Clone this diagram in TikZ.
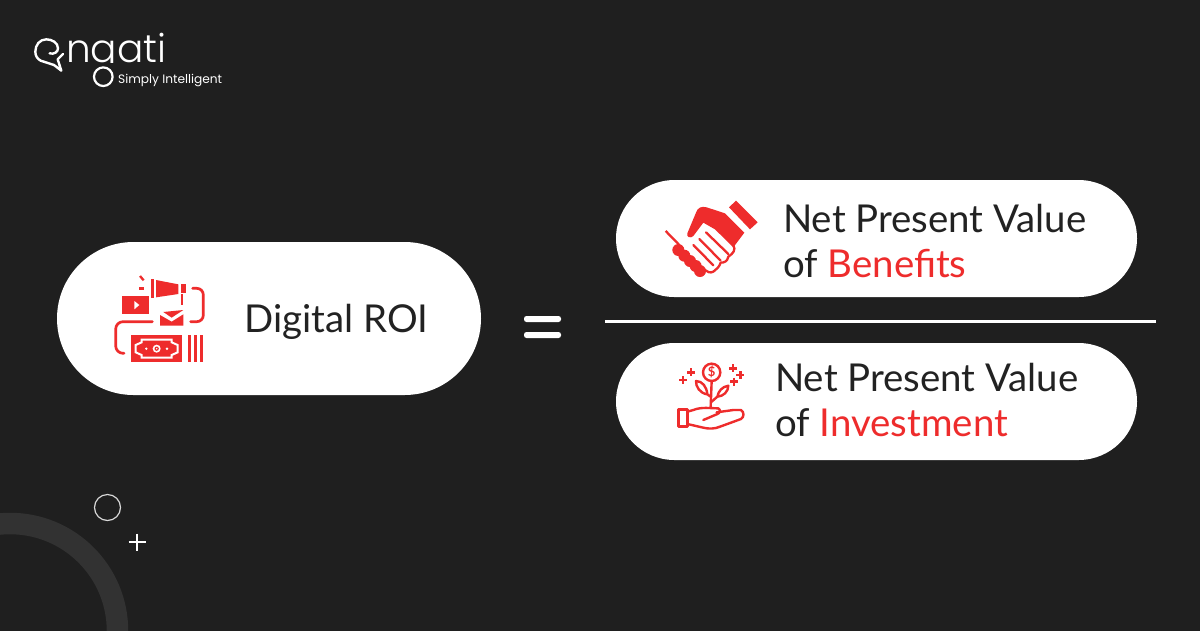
\documentclass[tikz,border=0pt]{standalone}
\usepackage{fontspec}
\setmainfont{Lato}
\newfontfamily\logofont{Poppins}[UprightFont=* Light]
\newfontfamily\logotag{Poppins}
\definecolor{bgc}{HTML}{1F1F1F}
\definecolor{ringc}{HTML}{323232}
\definecolor{redc}{HTML}{EE2C2C}
\definecolor{inkc}{HTML}{222222}
\tikzset{
  pill/.style={fill=white,draw=none},
  big/.style={anchor=base west,inner sep=0pt,text=inkc,font=\fontsize{38.4}{38.4}\selectfont},
  ic/.style={line width=2.7pt,draw=redc,line cap=round,line join=round},
  icf/.style={fill=redc,draw=none},
  thin/.style={draw=redc,line width=2.4pt,line cap=round,line join=round}
}
\begin{document}
\begin{tikzpicture}[x=1pt,y=-1pt]
\useasboundingbox (0,0) rectangle (1200,630);
\fill[bgc] (-2,-2) rectangle (1202,640);
% decoration
\draw[ringc,line width=21.5pt] (-97.5,660) -- (-97.5,631) .. controls (-97.5,571.6) and (-49.4,523.5) .. (10,523.5) .. controls (69.4,523.5) and (117.5,571.6) .. (117.5,631) -- (117.5,660);
\draw[white!85!black,line width=1.2pt] (107.5,507.5) circle[radius=13];
\draw[white,line width=2pt] (128.5,542) -- (145.5,542) (137,533.5) -- (137,550.5);
% logo
\node[anchor=base west,inner sep=0pt,text=white,font=\logofont\fontsize{39}{39}\selectfont] (word) at (66,62) {ngati};
\fill[bgc] (86,63) rectangle (116,82);
\draw[white,line width=2.2pt] (103.3,76.7) circle[radius=9.3];
\begin{scope}[shift={(28,30)},scale=1/3]
\draw[white,line width=2.4pt,line cap=round,line join=round] (65,70) .. controls (78,74) and (90,66) .. (90,55) .. controls (90,38) and (72,28) .. (55,28) .. controls (35,28) and (22,45) .. (22,65) .. controls (22,78) and (28,86) .. (38,92) -- (78,105) -- (100,122) -- (89,88) -- (105,72);
\end{scope}
\node[anchor=base west,inner sep=0pt,text=white,font=\logotag\fontsize{12.2}{12.2}\selectfont] (tag) at (118,83) {Simply Intelligent};
% pills
\fill[pill] (57,242) [rounded corners=76.5pt] rectangle (481,395);
\fill[pill] (616,180) [rounded corners=58.5pt] rectangle (1137,297);
\fill[pill] (616,343) [rounded corners=58.5pt] rectangle (1137,460);
% equals, rule
\fill[white,rounded corners=2.5pt] (524,316) rectangle (561,322);
\fill[white,rounded corners=2.5pt] (524,332) rectangle (561,338);
\fill[white] (605,319.5) rectangle (1156,322.5);
% texts
\node[big] (roi) at (244,332) {Digital ROI};
\node[big] (n1) at (783,232) {Net Present Value};
\node[big] (o1) at (783,277) {of \textcolor{redc}{Benefits}};
\node[big] (n2) at (775,391) {Net Present Value};
\node[big] (o2) at (775,436) {of \textcolor{redc}{Investment}};
% icon digital
\begin{scope}[shift={(100,265)},scale=1/3]
\fill[icf] (67,93) rectangle (148,148);
\fill[white] (103,108) -- (118,120) -- (103,133) -- cycle;
\fill[icf] (152,42) rectangle (161,98);
\fill[icf] (168,45) -- (235,58) -- (235,87) -- (168,97) -- cycle;
\fill[icf] (243,58) rectangle (259,85);
\fill[icf] (243,88) rectangle (250,120);
\fill[icf] (117,67) rectangle (133,74);
\draw[redc,line width=2.3pt] (120,33) -- (131,46);
\fill[icf] (180,150) -- (215,170) -- (250,148) -- (250,182) -- (180,182) -- cycle;
\fill[icf] (190,141) -- (250,135) -- (215,158) -- cycle;
\draw[ic,rounded corners=6.5pt] (278,70) -- (310,70) -- (310,170) -- (272,170);
\draw[ic,rounded corners=7.5pt] (157,170) -- (47,170) -- (47,265) -- (72,265);
\fill[icf] (93,210) rectangle (247,292);
\draw[white,line width=2pt] (125,224) -- (215,224) -- (215,232) -- (233,240) -- (233,262) -- (215,270) -- (215,278) -- (125,278) -- (125,270) -- (107,262) -- (107,240) -- (125,232) -- cycle;
\fill[white] (170,251) circle[radius=12];
\fill[icf] (170,251) circle[radius=6.5];
\fill[white] (170,251) circle[radius=2.5];
\fill[white] (139,251) circle[radius=4];
\fill[white] (201,251) circle[radius=4];
\fill[icf] (265,210) rectangle (272,292);
\fill[icf] (283,210) rectangle (290,292);
\fill[icf] (300,210) rectangle (308,292);
\end{scope}
% icon handshake
\begin{scope}[shift={(650,190)},scale=1/3]
\fill[icf] (258,32) -- (323,97) -- (300,118) -- (237,52) -- cycle;
\draw[redc,line width=2.3pt] (47,123) -- (88,165);
\foreach \p in {(85,180),(103,197),(120,213),(137,228),(150,243)} \fill[icf] \p circle[radius=18];
\fill[icf] (112,130) -- (138,68) .. controls (143,52) and (155,48) .. (170,52) -- (225,70) -- (283,128) -- (250,172) -- (195,118) -- (160,98) -- (130,138) .. controls (122,146) and (108,142) .. (112,130) -- cycle;
\draw[redc,line width=2.3pt,line cap=round,line join=round] (130,165) -- (190,226) (148,147) -- (212,212) (168,127) -- (235,192);
\draw[redc,line width=2.3pt,line join=round,line cap=round] (250,165) .. controls (258,180) and (250,190) .. (235,200) .. controls (232,215) and (222,218) .. (212,218) .. controls (208,232) and (198,238) .. (190,245) .. controls (180,250) and (172,246) .. (165,240);
\end{scope}
% icon investment
\begin{scope}[shift={(665,355)},scale=1/3]
\draw[thin] (140,52) circle[radius=26];
\node[inner sep=0pt,text=redc,font=\fontsize{13}{13}\selectfont\bfseries] (dollar) at (140,52) {\$};
\draw[thin] (140,78) -- (137,155);
\draw[thin] (137,125) -- (127,118) .. controls (105,115) and (92,95) .. (93,78) .. controls (112,78) and (125,95) .. (127,118);
\draw[thin] (140,140) -- (157,125) .. controls (160,108) and (172,95) .. (190,92) .. controls (190,110) and (175,124) .. (157,125);
\draw[thin] (40,163) rectangle (67,215);
\draw[thin] (67,170) -- (85,165) .. controls (110,155) and (135,160) .. (160,160) .. controls (168,165) and (165,175) .. (155,178) -- (115,195);
\draw[thin] (155,172) -- (205,165) -- (228,165) .. controls (238,172) and (238,185) .. (228,192) -- (165,215) .. controls (150,222) and (130,222) .. (115,218) -- (67,207);
\foreach \c in {(54,75),(78,52),(204,40),(226,60),(207,80)} {
  \draw[redc,line width=2.8pt] \c ++(-12,0) -- ++(24,0) \c ++(0,-12) -- ++(0,24);
}
\end{scope}
\end{tikzpicture}
\end{document}
